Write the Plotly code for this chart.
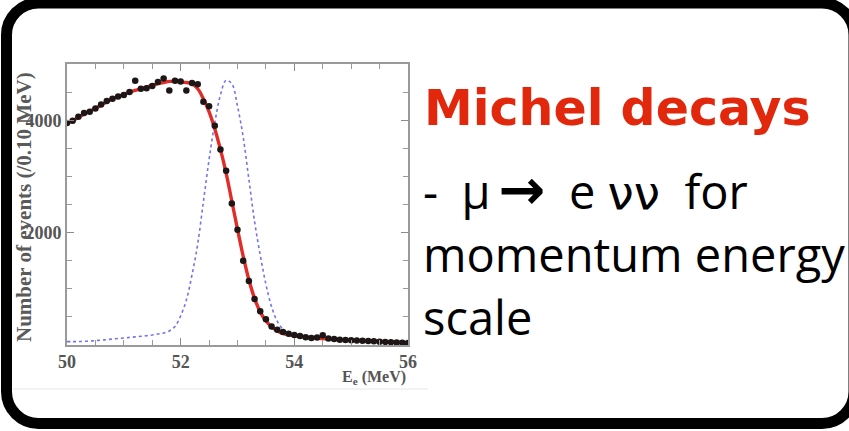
import plotly.graph_objects as go

# ---------------- data ----------------
energy_mev = [round(50.0 + 0.1 * i, 1) for i in range(61)]

data_counts = [
    3950, 3990, 4060, 4130, 4150, 4210, 4280, 4340, 4380, 4420,
    4450, 4500, 4700, 4560, 4570, 4610, 4680, 4740, 4530, 4700,
    4690, 4530, 4660, 4640, 4330, 4250, 3900, 3480, 3100, 2520,
    2050, 1500, 1140, 820, 600, 460, 330, 270, 230, 200,
    180, 160, 140, 125, 135, 175, 115, 105, 95, 90,
    85, 80, 75, 70, 65, 60, 55, 50, 45, 40, 35,
]

fit_counts = [
    3940, 3990, 4050, 4110, 4160, 4210, 4270, 4330, 4380, 4420,
    4460, 4500, 4530, 4560, 4590, 4620, 4650, 4670, 4690, 4690,
    4680, 4670, 4650, 4560, 4380, 4150, 3850, 3480, 3060, 2560,
    2060, 1580, 1160, 830, 590, 430, 320, 250, 205, 180,
    165, 150, 138, 128, 120, 114, 108, 102, 96, 90,
    85, 80, 75, 71, 67, 63, 59, 55, 51, 47, 43,
]

response_counts = [
    60, 60, 62, 65, 70, 78, 86, 95, 105, 115,
    125, 135, 145, 155, 165, 178, 195, 215, 250, 330,
    520, 800, 1250, 1800, 2550, 3300, 3950, 4450, 4710, 4650,
    4250, 3700, 2950, 2200, 1600, 1080, 680, 420, 280, 210,
    175, 160, 148, 138, 128, 120, 112, 105, 98, 92,
    86, 80, 75, 70, 66, 62, 58, 54, 50, 46, 42,
]

x_tick_vals = [50, 52, 54, 56]
y_tick_vals = [2000, 4000]

title_text = "Michel decays"
body_lines = [
    "-\u2002\u03bc\u2009<span style=\"font-family:'DejaVu Sans';font-weight:bold;font-size:56px\">\u2192</span>"
    "\u2002e <span style=\"font-family:'DejaVu Sans'\">\u03bd\u03bd</span>  for",
    "momentum energy",
    "scale",
]

# ---------------- layout geometry (pixels) ----------------
W, H = 849, 431
L, R, T, B = 67, 408, 64, 345


def px(x):
    return (x - L) / (R - L)


def py(y):
    return (B - y) / (B - T)


fig = go.Figure()

fig.add_trace(go.Scatter(
    x=energy_mev, y=response_counts, mode="lines",
    line=dict(color="rgb(115,115,235)", width=1.6, dash="dot", shape="spline"),
    hoverinfo="skip", showlegend=False,
))
fig.add_trace(go.Scatter(
    x=energy_mev, y=fit_counts, mode="lines",
    line=dict(color="rgb(225,45,40)", width=3.4, shape="spline"),
    showlegend=False,
))
fig.add_trace(go.Scatter(
    x=energy_mev, y=data_counts, mode="markers",
    marker=dict(color="rgb(30,22,22)", size=6.5),
    showlegend=False,
))

axis_common = dict(
    showline=True, mirror="ticks", linecolor="#9a9a9a", linewidth=1.6,
    ticks="inside", ticklen=7, tickcolor="#8a8a8a", tickwidth=1.2,
    showgrid=False, zeroline=False,
    tickfont=dict(family="Liberation Serif", size=18, color="#555555", weight="bold"),
)

fig.update_xaxes(
    range=[50, 56], tickmode="array", tickvals=x_tick_vals,
    minor=dict(dtick=0.5, tick0=50, ticks="inside", ticklen=5, tickcolor="#9a9a9a"),
    **axis_common,
)
fig.update_yaxes(
    range=[0, 5000], tickmode="array", tickvals=y_tick_vals,
    minor=dict(dtick=500, tick0=0, ticks="inside", ticklen=5, tickcolor="#9a9a9a"),
    **axis_common,
)

annotations = [
    dict(text="Number of events (/0.10 MeV)", textangle=-90,
         x=px(24), y=py(207), xref="paper", yref="paper",
         xanchor="center", yanchor="middle", showarrow=False,
         font=dict(family="Liberation Serif", size=21, color="#5a5a5a", weight="bold")),
    dict(text="E<sub>e</sub> (MeV)",
         x=px(408), y=py(377), xref="paper", yref="paper",
         xanchor="right", yanchor="middle", showarrow=False,
         font=dict(family="Liberation Serif", size=16, color="#555555", weight="bold")),
    dict(text=title_text, x=px(422), y=py(108), xref="paper", yref="paper",
         xanchor="left", yanchor="middle", showarrow=False,
         font=dict(family="DejaVu Sans", size=49, color="rgb(226,40,12)", weight="bold")),
]
body_centers = [190, 254, 317]
for line, cy in zip(body_lines, body_centers):
    annotations.append(dict(
        text=line, x=px(421), y=py(cy), xref="paper", yref="paper",
        xanchor="left", yanchor="middle", showarrow=False,
        font=dict(family="Open Sans", size=47, color="black"),
    ))

# rounded black frame (centerline in pixels)
fx0, fx1, fy0, fy1, r = 6.5, 854, 3, 423.5, 32
k = 0.5523 * r


def pt(x, y):
    return f"{px(x):.5f},{py(y):.5f}"


path = (
    f"M {pt(fx0 + r, fy0)} L {pt(fx1 - r, fy0)} "
    f"C {pt(fx1 - r + k, fy0)} {pt(fx1, fy0 + r - k)} {pt(fx1, fy0 + r)} "
    f"L {pt(fx1, fy1 - r)} "
    f"C {pt(fx1, fy1 - r + k)} {pt(fx1 - r + k, fy1)} {pt(fx1 - r, fy1)} "
    f"L {pt(fx0 + r, fy1)} "
    f"C {pt(fx0 + r - k, fy1)} {pt(fx0, fy1 - r + k)} {pt(fx0, fy1 - r)} "
    f"L {pt(fx0, fy0 + r)} "
    f"C {pt(fx0, fy0 + r - k)} {pt(fx0 + r - k, fy0)} {pt(fx0 + r, fy0)} Z"
)

shapes = [
    dict(type="path", path=path, xref="paper", yref="paper",
         line=dict(color="black", width=11), fillcolor="rgba(0,0,0,0)", layer="above"),
    dict(type="line", xref="paper", yref="paper",
         x0=px(13), x1=px(428), y0=py(389), y1=py(389),
         line=dict(color="#e6e9e2", width=1)),
]

fig.update_layout(
    width=W, height=H,
    margin=dict(l=L, r=W - R, t=T, b=H - B),
    paper_bgcolor="white", plot_bgcolor="white",
    annotations=annotations, shapes=shapes,
    showlegend=False,
)

fig.write_html("out.html")
